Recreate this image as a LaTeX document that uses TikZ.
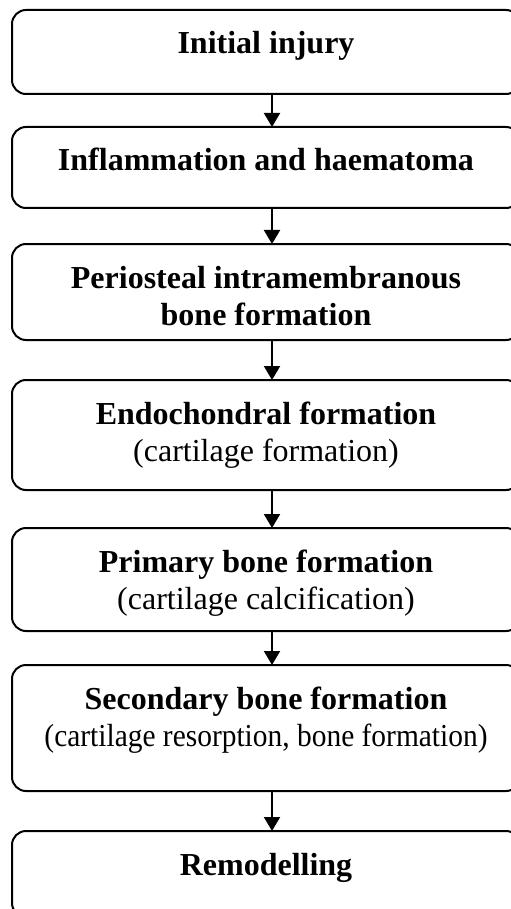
\documentclass[tikz,border=0pt]{standalone}
\usepackage{fontspec}
\setmainfont{Liberation Serif}
\usetikzlibrary{arrows.meta, positioning}
\tikzset{
  stage/.style={rectangle,draw,rounded corners=7pt,line width=1pt,align=flush center,text width=254pt,inner sep=0pt,outer sep=0pt,text height=22pt,font=\fontsize{16pt}{18.5pt}\selectfont},
  line/.style={-{Triangle[length=7pt,width=8pt]},line width=1pt}
}

\begin{document}
\begin{tikzpicture}
\useasboundingbox (0,0) rectangle (255pt,-454.5pt);
\node[stage, text depth=20pt, anchor=north west] (injury) at (6pt,-5pt) {\textbf{Initial injury}};
\node[stage, text depth=18.5pt, below=16.5pt of injury] (inflam) {\textbf{Inflammation and haematoma}};
\node[stage, text depth=26pt, below=18pt of inflam] (perio) {\textbf{Periosteal intramembranous}\\\textbf{bone formation}};
\node[stage, text depth=33pt, below=20pt of perio] (endo) {\textbf{Endochondral formation}\\(cartilage formation)};
\node[stage, text depth=29.5pt, below=19pt of endo] (primary) {\textbf{Primary bone formation}\\(cartilage calcification)};
\node[stage, text depth=41pt, below=17pt of primary] (secondary) {\textbf{Secondary bone formation}\\\scalebox{0.92}[1]{(cartilage resorption, bone formation)}};
\node[stage, text depth=21pt, below=20pt of secondary] (remodel) {\textbf{Remodelling}};
\draw[line] ([xshift=3pt]injury.south) -- ([xshift=3pt]inflam.north);
\draw[line] ([xshift=3pt]inflam.south) -- ([xshift=3pt]perio.north);
\draw[line] ([xshift=3pt]perio.south) -- ([xshift=3pt]endo.north);
\draw[line] ([xshift=3pt]endo.south) -- ([xshift=3pt]primary.north);
\draw[line] ([xshift=3pt]primary.south) -- ([xshift=3pt]secondary.north);
\draw[line] ([xshift=3pt]secondary.south) -- ([xshift=3pt]remodel.north);
\end{tikzpicture}
\end{document}
